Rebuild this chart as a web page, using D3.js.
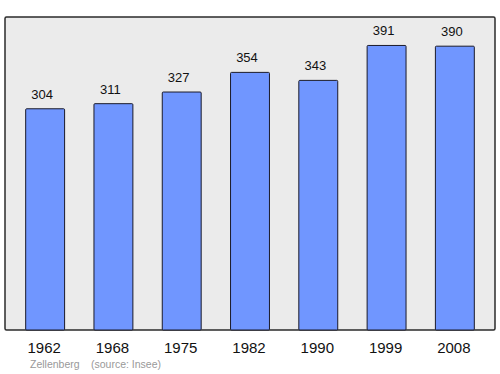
<!DOCTYPE html>
<html>
<head>
<meta charset="utf-8">
<script src="https://cdn.jsdelivr.net/npm/d3@7"></script>
<style>
  body { margin: 0; background: #fff; }
  svg { display: block; font-family: "Liberation Sans", Arial, sans-serif; }
</style>
</head>
<body>
<svg id="chart" width="500" height="374"></svg>
<script>
const years = ["1962", "1968", "1975", "1982", "1990", "1999", "2008"];
const population = [304, 311, 327, 354, 343, 391, 390];
const commune = "Zellenberg";
const source = "(source: Insee)";

const svg = d3.select("#chart");
const frame = { left: 5, top: 17, right: 495, bottom: 330 };

const x = d3.scaleBand()
  .domain(years)
  .range([11, 489])
  .paddingInner(0.43)
  .paddingOuter(0.215);

const y = d3.scaleLinear()
  .domain([0, d3.max(population) * 1.1])
  .range([frame.bottom, frame.top]);

svg.append("rect")
  .attr("x", frame.left)
  .attr("y", frame.top)
  .attr("width", frame.right - frame.left)
  .attr("height", frame.bottom - frame.top)
  .attr("rx", 1.5)
  .attr("fill", "#ebebeb")
  .attr("stroke", "#2b2b2b")
  .attr("stroke-width", 1.5);

const data = years.map((yr, i) => ({ year: yr, value: population[i] }));

svg.selectAll("rect.bar")
  .data(data)
  .enter()
  .append("rect")
  .attr("class", "bar")
  .attr("x", (d) => x(d.year))
  .attr("y", (d) => y(d.value))
  .attr("width", x.bandwidth())
  .attr("height", (d) => frame.bottom - y(d.value))
  .attr("rx", 1)
  .attr("fill", "#7096ff")
  .attr("stroke", "#1a1a2a")
  .attr("stroke-width", 1);

// value labels sit a bit left of the bar centre in the original
svg.selectAll("text.value")
  .data(data)
  .enter()
  .append("text")
  .attr("class", "value")
  .attr("x", (d) => x(d.year) + x.bandwidth() / 2 - 3)
  .attr("y", (d) => y(d.value) - 10)
  .attr("text-anchor", "middle")
  .attr("font-size", 13)
  .attr("fill", "#111")
  .text((d) => d.value);

const axis = d3.axisBottom(x).tickSize(0).tickPadding(12);
const g = svg.append("g")
  .attr("transform", `translate(-1,${frame.bottom})`)
  .call(axis);
g.select(".domain").remove();
g.selectAll("text")
  .attr("font-size", 15)
  .attr("font-family", "Liberation Sans, Arial, sans-serif")
  .attr("fill", "#111");

svg.append("text")
  .attr("x", 30)
  .attr("y", 368)
  .attr("font-size", 10.5)
  .attr("fill", "#999")
  .text(commune);

svg.append("text")
  .attr("x", 91)
  .attr("y", 368)
  .attr("font-size", 10.5)
  .attr("fill", "#999")
  .text(source);
</script>
</body>
</html>
